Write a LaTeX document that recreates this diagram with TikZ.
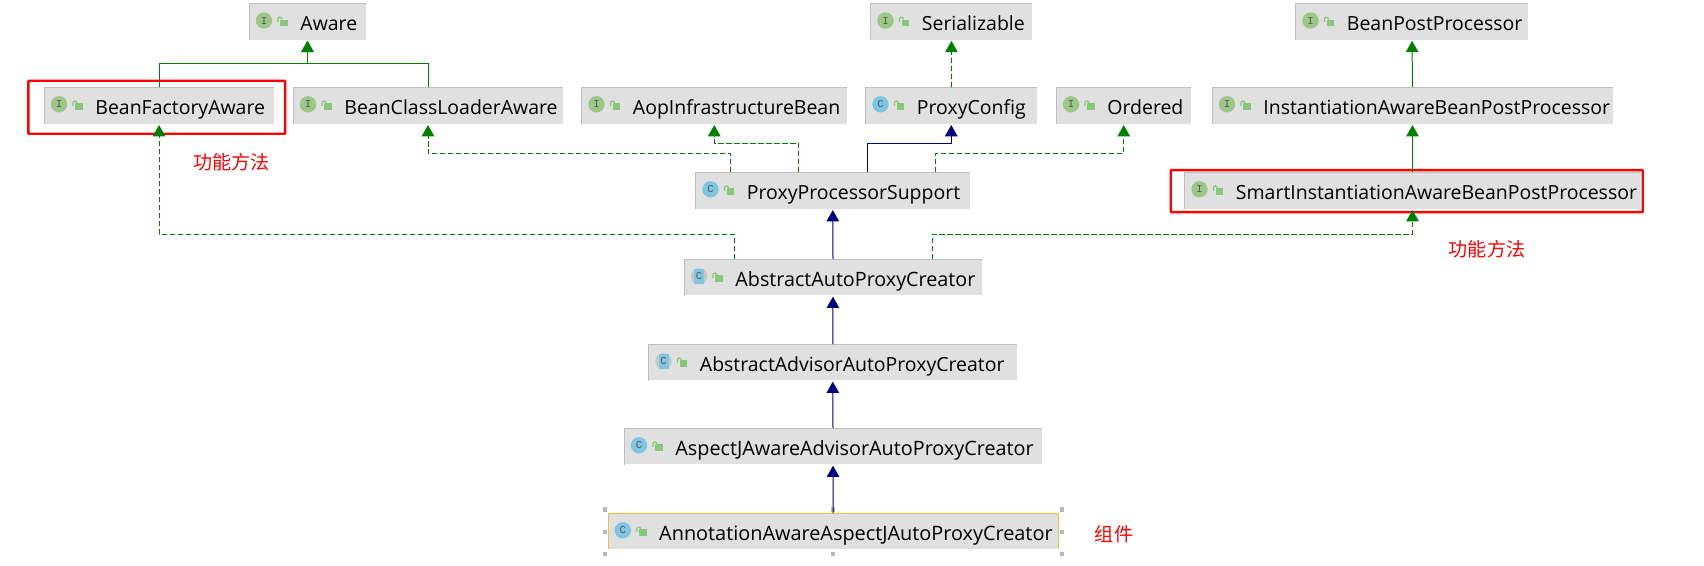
\documentclass[tikz,border=0pt]{standalone}
\usepackage{fontspec}
\setmainfont{Open Sans}
\newfontfamily\cjk{Noto Sans CJK SC}
\newfontfamily\iconfont{Liberation Mono}
\usetikzlibrary{arrows.meta}
\definecolor{boxfill}{HTML}{E0E0E0}
\definecolor{boxedge}{HTML}{BEBEBE}
\definecolor{ifacegreen}{HTML}{9CC787}
\definecolor{classblue}{HTML}{7FC6E2}
\definecolor{lockgreen}{HTML}{8AC77A}
\definecolor{implgreen}{HTML}{008000}
\definecolor{extblue}{HTML}{000080}
\definecolor{markred}{HTML}{FF0000}
\definecolor{selyellow}{HTML}{F5C232}
\definecolor{handlegray}{HTML}{B8B8B8}
\tikzset{
  typebox/.style={fill=boxfill,draw=none,inner sep=0pt,anchor=center},
  extends/.style={line width=0.75pt,-{Triangle[length=8.5pt,width=9.4pt]},shorten >=0.8pt},
  ext/.style={extends,draw=extblue},
  impl/.style={extends,draw=implgreen},
  dashimpl/.style={impl,dash pattern=on 4pt off 2pt},
  markbox/.style={draw=markred,line width=1.8pt,fill=none,rounded corners=0.5pt},
  note/.style={text=markred,font=\cjk\fontsize{14.3}{16}\selectfont,inner sep=0pt},
  handle/.style={fill=handlegray,draw=none,minimum size=3.6pt,inner sep=0pt},
  iconletter/.style={inner sep=0pt,text=black!65,font=\iconfont\fontsize{8}{9}\selectfont},
}
\def\tsz{14.6}
% #1 name, #2 x1, #3 x2, #4 y1, #5 y2, #6 kind (I/C/A), #7 text
\newcommand{\typenode}[7]{%
  \pgfmathsetmacro{\cxx}{(#2+#3)/2}%
  \pgfmathsetmacro{\cyy}{(#4+#5)/2}%
  \pgfmathsetmacro{\wpt}{(#3-#2)*0.75}%
  \pgfmathsetmacro{\hpt}{(#5-#4)*0.75}%
  \node[typebox,minimum width=\wpt pt,minimum height=\hpt pt] (#1) at (\cxx,\cyy)
    {\raisebox{-6.8pt}[0pt][0pt]{\makebox[\wpt pt][l]{\hspace{38.2pt}\fontsize{\tsz}{16}\selectfont #7}}};
  \draw[boxedge,line width=0.8pt] (#1.south west) -- (#1.north west) -- (#1.north east);
  \pgfmathsetmacro{\ix}{#2+14.5}%
  \pgfmathsetmacro{\iy}{#4+17}%
  \pgfmathsetmacro{\lx}{#2+33.5}%
  \ifx#6I
    \fill[ifacegreen] (\ix,\iy) circle[radius=8.2];
    \node[iconletter] at (\ix,\iy) {I};
  \else\ifx#6C
    \fill[classblue] (\ix,\iy) circle[radius=8.2];
    \node[iconletter] at (\ix,\iy) {C};
  \else
    \fill[black!22] (\ix,\iy) circle[radius=8.2];
    \fill[classblue] (\ix-5,\iy-7.6) rectangle (\ix+5,\iy+7.6);
    \node[iconletter] at (\ix,\iy) {C};
  \fi\fi
  \fill[lockgreen] (\lx-3,\iy-1) rectangle (\lx+4.7,\iy+5.5);
  \draw[lockgreen,line width=0.9pt] (\lx-5,\iy+1.5) -- (\lx-5,\iy-1.5) .. controls (\lx-5,\iy-4) and (\lx-1,\iy-4) .. (\lx-1,\iy-1);
}
\begin{document}
\begin{tikzpicture}[x=0.75pt,y=-0.75pt]
\useasboundingbox (0,0) rectangle (1704,565);
\typenode{aware}{249.5}{365.5}{3.5}{39.5}{I}{Aware}
\typenode{serial}{871}{1032}{3.5}{39.5}{I}{Serializable}
\typenode{bpp}{1296}{1528}{3.5}{39.5}{I}{BeanPostProcessor}
\typenode{bfa}{44.5}{273.5}{87.3}{123.7}{I}{BeanFactoryAware}
\typenode{bcla}{293.5}{562.5}{87.3}{123.7}{I}{BeanClassLoaderAware}
\typenode{aop}{582}{846.5}{87.3}{123.7}{I}{AopInfrastructureBean}
\typenode{pcfg}{866}{1036.5}{87.3}{123.7}{C}{ProxyConfig}
\typenode{ordered}{1056.5}{1191}{87.3}{123.7}{I}{Ordered}
\typenode{iabpp}{1212.5}{1612.5}{87.3}{123.7}{I}{InstantiationAwareBeanPostProcessor}
\typenode{pps}{696}{969.5}{172.3}{208.7}{C}{ProxyProcessorSupport}
\typenode{sia}{1185}{1640}{172.3}{208.7}{I}{SmartInstantiationAwareBeanPostProcessor}
\def\tsz{14.8}
\typenode{aapc}{684.5}{981.5}{259.3}{295.3}{A}{AbstractAutoProxyCreator}
\def\tsz{14.6}
\typenode{aadv}{649}{1016.5}{344.3}{380.3}{A}{AbstractAdvisorAutoProxyCreator}
\def\tsz{14.85}
\typenode{asp}{624.5}{1041.5}{428.3}{464.3}{C}{AspectJAwareAdvisorAutoProxyCreator}
\def\tsz{14.9}
\typenode{anno}{608.3}{1058}{513.3}{549}{C}{AnnotationAwareAspectJAutoProxyCreator}
% selection of the bottom box
\draw[selyellow,line width=0.8pt] (anno.south west) -- (anno.north west) -- (anno.north east) -- (anno.south east);
\foreach \hn/\hx/\hy in {ha/605/509.7,hb/833/509.7,hc/1062/509.7,hd/605/532,he/1062/532,hf/605/554,hg/833/554,hh/1062/554}
  \node[handle] (\hn) at (\hx,\hy) {};
% marking rectangles
\node[markbox,minimum width=192.5pt,minimum height=39.8pt,inner sep=0pt] (mark1) at (156.75,107.25) {};
\node[markbox,minimum width=354pt,minimum height=31.5pt,inner sep=0pt] (mark2) at (1406.75,191.1) {};
% connectors
\draw[impl] (bfa.north) -- ++(0,-23.7) -| (aware.south);
\draw[impl] (bcla.north) -- ++(0,-23.7) -| (aware.south);
\draw[dashimpl] (pcfg.north) -- (serial.south);
\draw[impl] (iabpp.north) -- (bpp.south);
\draw[impl] (sia.north) -- (iabpp.south);
\draw[dashimpl] ([xshift=-76.5pt]pps.north) -- ++(0,-18.6) -| (bcla.south);
\draw[dashimpl] ([xshift=-25.5pt]pps.north) -- ++(0,-29) -| (aop.south);
\draw[ext] ([xshift=25.9pt]pps.north) -- ++(0,-29) -| (pcfg.south);
\draw[dashimpl] ([xshift=77.25pt]pps.north) -- ++(0,-18.6) -| (ordered.south);
\draw[dashimpl] ([xshift=-74.25pt]aapc.north) -- ++(0,-25) -| (bfa.south);
\draw[dashimpl] ([xshift=74.6pt]aapc.north) -- ++(0,-25) -| (sia.south);
\draw[ext] (aapc.north) -- (pps.south);
\draw[ext] (aadv.north) -- (aapc.south);
\draw[ext] (asp.north) -- (aadv.south);
\draw[ext] (anno.north) -- (asp.south);
% notes
\node[note] (n1) at (231.5,162) {功能方法};
\node[note] (n2) at (1487,249) {功能方法};
\node[note] (n3) at (1114,534) {组件};
\end{tikzpicture}
\end{document}
